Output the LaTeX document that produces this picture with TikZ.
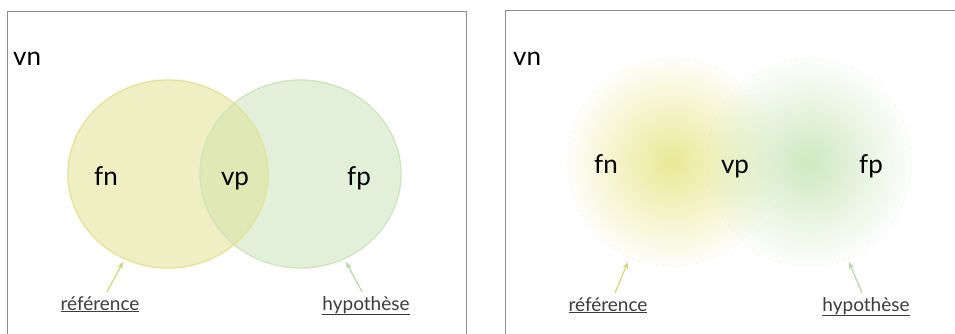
\documentclass[tikz,border=0pt]{standalone}
\usepackage{fontspec}
\setmainfont{Lato}
\usetikzlibrary{fadings,arrows.meta}
\definecolor{frameg}{RGB}{140,140,140}
\definecolor{yfill}{RGB}{240,239,196}
\definecolor{ydraw}{RGB}{228,226,150}
\definecolor{gfill}{RGB}{226,240,218}
\definecolor{gdraw}{RGB}{204,229,190}
\definecolor{ifill}{RGB}{224,232,181}
\definecolor{ycore}{RGB}{228,226,115}
\definecolor{gcore}{RGB}{192,226,172}
\definecolor{yarrow}{RGB}{212,212,120}
\definecolor{garrow}{RGB}{180,215,165}
\definecolor{labg}{RGB}{60,60,60}
\tikzfading[name=radfade, inner color=transparent!25, outer color=transparent!97]
\tikzset{
  frame/.style={draw=frameg, line width=0.9pt},
  big/.style={font=\fontsize{26}{30}\selectfont, text=black, inner sep=0pt, anchor=base},
  lab/.style={font=\fontsize{19}{22}\selectfont, text=labg, inner sep=0pt, anchor=base},
  yarr/.style={draw=yarrow, line width=1.2pt, -{Stealth[length=7pt,width=5.5pt]}},
  garr/.style={draw=garrow, line width=1.2pt, -{Stealth[length=7pt,width=5.5pt]}},
  fuzzy/.style={path fading=radfade, fit fading=true},
  fuzzyedge/.style={draw=#1, line width=0.8pt, dash pattern=on 0.8pt off 5pt, draw opacity=0.5},
}
\newcommand{\ulabel}[1]{\underline{#1}}
\begin{document}
\begin{tikzpicture}[x=1pt,y=-1pt]
\useasboundingbox (0,0) rectangle (955,333);
\clip (0,0) rectangle (955,333);
\fill[white] (0,0) rectangle (955,333);
% panels
\draw[frame] (7,11) rectangle (466,345);
\draw[frame] (505,10) rectangle (965,345);
% ---------- left venn ----------
\fill[yfill] (168,174) ellipse [x radius=100, y radius=94];
\fill[gfill] (300.5,174) ellipse [x radius=100.5, y radius=94];
\begin{scope}
  \clip (168,174) ellipse [x radius=100, y radius=94];
  \fill[ifill] (300.5,174) ellipse [x radius=100.5, y radius=94];
\end{scope}
\draw[gdraw, line width=1.3pt] (300.5,174) ellipse [x radius=100.5, y radius=94];
\draw[ydraw, line width=1.3pt] (168,174) ellipse [x radius=100, y radius=94];
\coordinate (ly) at (123,262);
\coordinate (lg) at (346,262);
\node[big, anchor=base west] (vnL) at (13,65) {vn};
\node[big] (fnL) at (106,185) {fn};
\node[big] (vpL) at (235,185) {vp};
\node[big] (fpL) at (359,185) {fp};
\node[lab] (refL) at (100,310) {\ulabel{référence}};
\node[lab] (hypL) at (366,310) {\ulabel{hypothèse}};
\draw[yarr] (refL.north) ++(7,-4) -- (ly);
\draw[garr] (hypL.north) ++(-4,-4) -- (lg);
% ---------- right venn ----------
\fill[ycore, fuzzy] (672,162) ellipse [x radius=105, y radius=104.5];
\fill[gcore, fuzzy] (809,162) ellipse [x radius=103, y radius=104.5];
\draw[fuzzyedge=ydraw] (672,162) ellipse [x radius=105, y radius=104.5];
\draw[fuzzyedge=gdraw] (809,162) ellipse [x radius=103, y radius=104.5];
\coordinate (ry) at (628,262);
\coordinate (rg) at (849,262);
\node[big, anchor=base west] (vnR) at (513,65) {vn};
\node[big] (fnR) at (606,173) {fn};
\node[big] (vpR) at (735,173) {vp};
\node[big] (fpR) at (871,173) {fp};
\node[lab] (refR) at (608,311) {\ulabel{référence}};
\node[lab] (hypR) at (866,311) {\ulabel{hypothèse}};
\draw[yarr] (refR.north) ++(7,-4) -- (ry);
\draw[garr] (hypR.north) ++(-4,-4) -- (rg);
\end{tikzpicture}
\end{document}
